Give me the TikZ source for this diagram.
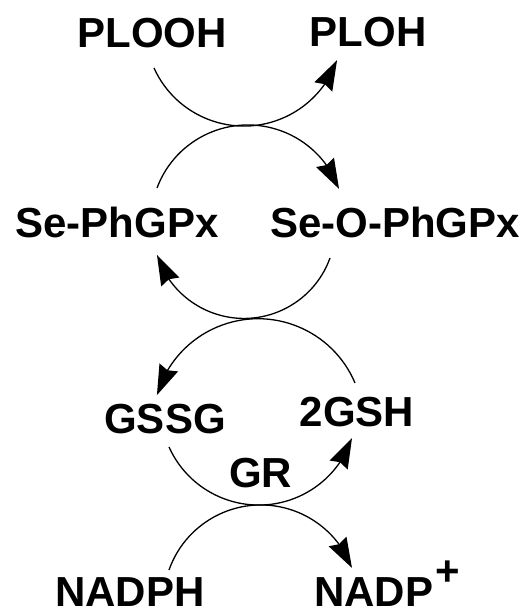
\documentclass[tikz,border=0pt]{standalone}
\usepackage{fontspec}
\setmainfont{Liberation Sans}
\usetikzlibrary{arrows.meta,bending}
\begin{document}
\begin{tikzpicture}[x=1pt,y=1pt,
  lbl/.style={font=\fontsize{42}{48}\bfseries\selectfont, inner sep=0pt, anchor=base},
  conn/.style={line width=1.3pt, black},
  arr/.style={conn, -{Stealth[length=30pt,width=20pt,inset=3pt,flex]}}]
\useasboundingbox (0,0) rectangle (530,609);
% labels
\node[lbl] (plooh) at (152,561) {PLOOH};
\node[lbl] (ploh) at (368,562) {PLOH};
\node[lbl] (se) at (117,371) {Se-PhGPx};
\node[lbl] (seo) at (395,371) {Se-O-PhGPx};
\node[lbl] (gssg) at (165,175) {GSSG};
\node[lbl] (gsh) at (357,182) {2GSH};
\node[lbl] (gr) at (260.5,121) {GR};
\node[lbl] (nadph) at (130,2.5) {NADPH};
\node[lbl, anchor=base west] (nadp) at (314,2.5) {NADP\kern2pt\raisebox{21pt}{+}};
% arc start points
\coordinate (s1) at (154,541);
\coordinate (s2) at (157,421);
\coordinate (s3) at (330,351);
\coordinate (s4) at (355,226);
\coordinate (s5) at (169,162);
\coordinate (s6) at (169,39);
% arcs
\draw[arr] (s1) arc[start angle=204.3, end angle=340.6, radius=98.7];
\draw[arr] (s2) arc[start angle=159.5, end angle=19.9, radius=97];
\draw[arr] (s3) arc[start angle=340.2, end angle=197.8, radius=91.4];
\draw[arr] (s4) arc[start angle=22.9, end angle=164.1, radius=105.2];
\draw[arr] (s5) arc[start angle=204.2, end angle=341.4, radius=98.4];
\draw[arr] (s6) arc[start angle=160.6, end angle=20.7, radius=97.4];
\end{tikzpicture}
\end{document}
